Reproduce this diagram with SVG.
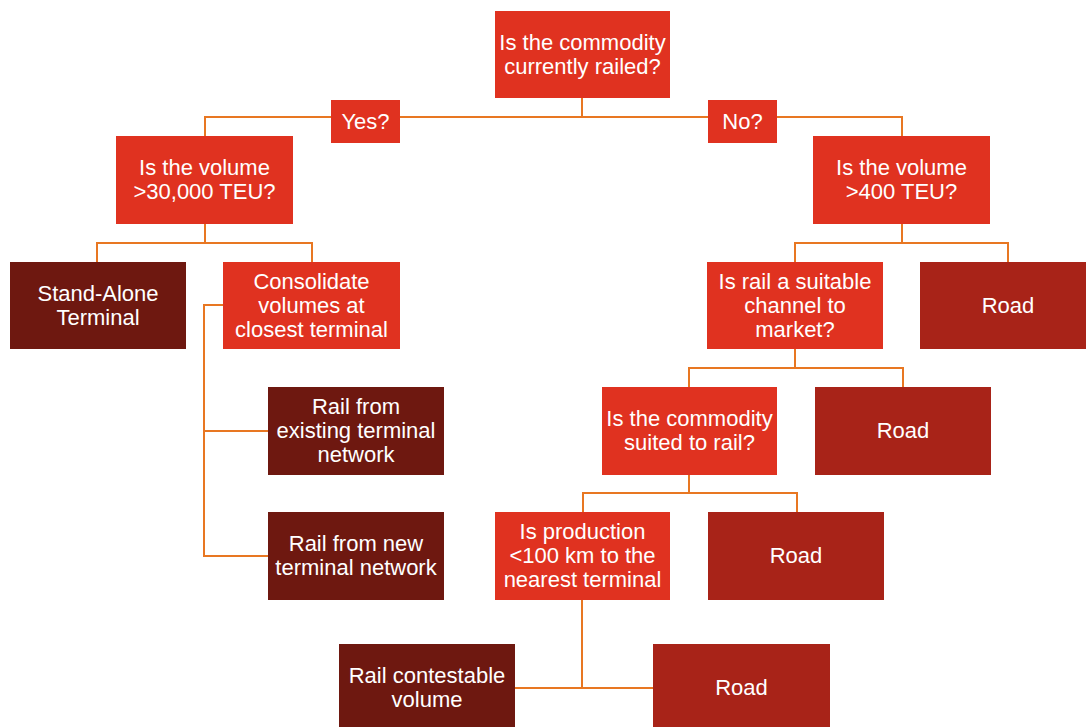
<svg xmlns="http://www.w3.org/2000/svg" width="1086" height="727" viewBox="0 0 1086 727">
<style>
.q{fill:#E03220}
.d{fill:#6E1810}
.r{fill:#A82318}
text{font-family:"Liberation Sans",Arial,sans-serif;font-size:22px;fill:#fff;text-anchor:middle}
.c{fill:none;stroke:#E87722;stroke-width:2}
</style>
<rect width="1086" height="727" fill="#fff"/>
<g id="connectors">
<path class="c" d="M582 98V117M205 136V117H331M400 117H708M777 117H902V136"/>
<path class="c" d="M205 224V243M97 262V243H312V262"/>
<path class="c" d="M223 305H204V556H268M204 431H268"/>
<path class="c" d="M902 224V243M795 262V243H1008V262"/>
<path class="c" d="M795 349V368M689 387V368H903V387"/>
<path class="c" d="M689 475V493M583 512V493H797V512"/>
<path class="c" d="M582 600V688M515 688H653"/>
</g>
<g id="n-root"><rect class="q" x="495" y="11" width="175" height="87"/><text x="582.5" y="50">Is the commodity</text><text x="582.5" y="74">currently railed?</text></g>
<g id="n-yes"><rect class="q" x="331" y="100" width="69" height="43"/><text x="365.5" y="129">Yes?</text></g>
<g id="n-no"><rect class="q" x="708" y="100" width="69" height="43"/><text x="742.5" y="129">No?</text></g>
<g id="n-vol30k"><rect class="q" x="116" y="136" width="177" height="88"/><text x="204.5" y="175">Is the volume</text><text x="204.5" y="199">&gt;30,000 TEU?</text></g>
<g id="n-vol400"><rect class="q" x="813" y="136" width="177" height="88"/><text x="901.5" y="175">Is the volume</text><text x="901.5" y="199">&gt;400 TEU?</text></g>
<g id="n-standalone"><rect class="d" x="10" y="262" width="176" height="87"/><text x="98" y="301">Stand-Alone</text><text x="98" y="325">Terminal</text></g>
<g id="n-consolidate"><rect class="q" x="223" y="262" width="177" height="87"/><text x="311.5" y="289">Consolidate</text><text x="311.5" y="313">volumes at</text><text x="311.5" y="337">closest terminal</text></g>
<g id="n-existing"><rect class="d" x="268" y="387" width="176" height="88"/><text x="356" y="414">Rail from</text><text x="356" y="438">existing terminal</text><text x="356" y="462">network</text></g>
<g id="n-new"><rect class="d" x="268" y="512" width="176" height="88"/><text x="356" y="551">Rail from new</text><text x="356" y="575">terminal network</text></g>
<g id="n-channel"><rect class="q" x="707" y="262" width="176" height="87"/><text x="795" y="289">Is rail a suitable</text><text x="795" y="313">channel to</text><text x="795" y="337">market?</text></g>
<g id="n-road1"><rect class="r" x="920" y="262" width="176" height="87"/><text x="1008" y="313">Road</text></g>
<g id="n-suited"><rect class="q" x="602" y="387" width="175" height="88"/><text x="689.5" y="426">Is the commodity</text><text x="689.5" y="450">suited to rail?</text></g>
<g id="n-road2"><rect class="r" x="815" y="387" width="176" height="88"/><text x="903" y="438">Road</text></g>
<g id="n-production"><rect class="q" x="495" y="512" width="175" height="88"/><text x="582.5" y="539">Is production</text><text x="582.5" y="563">&lt;100 km to the</text><text x="582.5" y="587">nearest terminal</text></g>
<g id="n-road3"><rect class="r" x="708" y="512" width="176" height="88"/><text x="796" y="563">Road</text></g>
<g id="n-contestable"><rect class="d" x="339" y="644" width="176" height="83"/><text x="427" y="683">Rail contestable</text><text x="427" y="707">volume</text></g>
<g id="n-road4"><rect class="r" x="653" y="644" width="177" height="83"/><text x="741.5" y="695">Road</text></g>
</svg>
